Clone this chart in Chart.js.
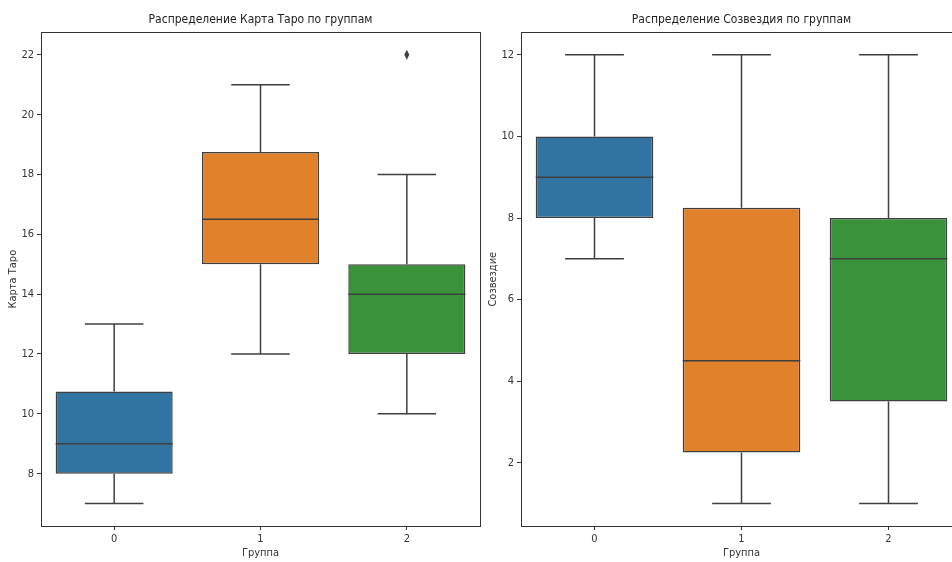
<!DOCTYPE html>
<html>
<head>
<meta charset="utf-8">
<script src="https://cdn.jsdelivr.net/npm/chart.js@4.4.1/dist/chart.umd.min.js"></script>
<style>
  html, body { margin: 0; padding: 0; background: #fff; width: 952px; height: 562px; overflow: hidden; }
  .panel { position: absolute; top: 0; }
  #left { left: 0; }
  #right { left: 480px; }
</style>
</head>
<body>
<div class="panel" id="left"><canvas id="taroChart" width="490" height="562"></canvas></div>
<div class="panel" id="right"><canvas id="starChart" width="492" height="562"></canvas></div>
<script>
// ---------- data ----------
const groups = ["0", "1", "2"];

const taroLow = [7, 12, 10];
const taroQ1 = [8, 15, 12];
const taroMed = [9, 16.5, 14];
const taroQ3 = [10.75, 18.75, 15];
const taroHigh = [13, 21, 18];
const taroOutliers = [[], [], [22]];
const taroTicks = [8, 10, 12, 14, 16, 18, 20, 22];

const starLow = [7, 1, 1];
const starQ1 = [8, 2.25, 3.5];
const starMed = [9, 4.5, 7];
const starQ3 = [10, 8.25, 8];
const starHigh = [12, 12, 12];
const starOutliers = [[], [], []];
const starTicks = [2, 4, 6, 8, 10, 12];

const boxColors = ["#3274a1", "#e1812c", "#3a923a"];
const lineColor = "#3f3f3f";
const FONT = "'Liberation Sans Narrow', 'DejaVu Sans Condensed', 'Liberation Sans', sans-serif";

// whiskers, caps, medians, fliers and frame
const boxPlotExtras = {
  id: "boxPlotExtras",
  afterDatasetsDraw(chart, args, opts) {
    const { ctx, chartArea, scales } = chart;
    const y = scales.y;
    const meta = chart.getDatasetMeta(0);
    ctx.save();
    ctx.strokeStyle = lineColor;
    ctx.lineWidth = 1.5;
    opts.med.forEach((m, i) => {
      const bar = meta.data[i];
      const cx = bar.x;
      const half = bar.width / 2;
      const yLow = y.getPixelForValue(opts.low[i]);
      const yHigh = y.getPixelForValue(opts.high[i]);
      const yQ1 = y.getPixelForValue(opts.q1[i]);
      const yQ3 = y.getPixelForValue(opts.q3[i]);
      const yMed = y.getPixelForValue(m);
      ctx.beginPath();
      ctx.moveTo(cx, yQ1);
      ctx.lineTo(cx, yLow);
      ctx.moveTo(cx, yQ3);
      ctx.lineTo(cx, yHigh);
      ctx.moveTo(cx - half / 2, yLow);
      ctx.lineTo(cx + half / 2, yLow);
      ctx.moveTo(cx - half / 2, yHigh);
      ctx.lineTo(cx + half / 2, yHigh);
      ctx.moveTo(cx - half, yMed);
      ctx.lineTo(cx + half, yMed);
      ctx.stroke();

      ctx.fillStyle = lineColor;
      opts.outliers[i].forEach((v) => {
        const py = y.getPixelForValue(v);
        ctx.beginPath();
        ctx.moveTo(cx, py - 5);
        ctx.lineTo(cx + 2.5, py);
        ctx.lineTo(cx, py + 5);
        ctx.lineTo(cx - 2.5, py);
        ctx.closePath();
        ctx.fill();
      });
    });
    ctx.strokeStyle = "#333";
    ctx.lineWidth = 1;
    ctx.strokeRect(
      Math.round(chartArea.left) + 0.5,
      Math.round(chartArea.top) + 0.5,
      Math.round(chartArea.right - chartArea.left),
      Math.round(chartArea.bottom - chartArea.top)
    );
    ctx.restore();
  },
};

function makeBoxChart(canvasId, title, yTitle, stats, ticks, yMin, yMax) {
  return new Chart(document.getElementById(canvasId), {
    type: "bar",
    data: {
      labels: groups,
      datasets: [
        {
          data: groups.map((g, i) => [stats.q1[i], stats.q3[i]]),
          backgroundColor: boxColors,
          borderColor: lineColor,
          borderWidth: 1.5,
          borderSkipped: false,
          categoryPercentage: 0.8,
          barPercentage: 1.0,
        },
      ],
    },
    options: {
      responsive: false,
      animation: false,
      layout: { padding: { left: 0, right: 10, top: 0, bottom: 0 } },
      plugins: {
        legend: { display: false },
        tooltip: { enabled: false },
        title: {
          display: true,
          text: title,
          fullSize: false,
          color: "#222",
          font: { family: FONT, size: 12, weight: "normal" },
          padding: { top: 13, bottom: 5 },
        },
        boxPlotExtras: stats,
      },
      scales: {
        x: {
          grid: {
            display: true,
            drawOnChartArea: false,
            drawTicks: true,
            tickLength: 4,
            offset: false,
            color: "#333",
          },
          border: { display: true, color: "#333" },
          ticks: { color: "#333", padding: 3, font: { family: FONT, size: 11 } },
          title: {
            display: true,
            text: "Группа",
            color: "#333",
            font: { family: FONT, size: 11 },
            padding: { top: 0, bottom: 2 },
          },
          afterFit: (scale) => {
            scale.height = 36;
          },
        },
        y: {
          min: yMin,
          max: yMax,
          grid: {
            display: true,
            drawOnChartArea: false,
            drawTicks: true,
            tickLength: 4,
            color: "#333",
          },
          border: { display: true, color: "#333" },
          ticks: { color: "#333", padding: 3, font: { family: FONT, size: 11 } },
          afterBuildTicks: (scale) => {
            scale.ticks = ticks.map((v) => ({ value: v }));
          },
          title: {
            display: true,
            text: yTitle,
            color: "#333",
            font: { family: FONT, size: 11 },
            padding: { top: 7, bottom: 0 },
          },
          afterFit: (scale) => {
            scale.width = 41;
          },
        },
      },
    },
    plugins: [boxPlotExtras],
  });
}

makeBoxChart(
  "taroChart",
  "Распределение Карта Таро по группам",
  "Карта Таро",
  { low: taroLow, q1: taroQ1, med: taroMed, q3: taroQ3, high: taroHigh, outliers: taroOutliers },
  taroTicks,
  6.25,
  22.75
);

makeBoxChart(
  "starChart",
  "Распределение Созвездия по группам",
  "Созвездие",
  { low: starLow, q1: starQ1, med: starMed, q3: starQ3, high: starHigh, outliers: starOutliers },
  starTicks,
  0.45,
  12.55
);
</script>
</body>
</html>
